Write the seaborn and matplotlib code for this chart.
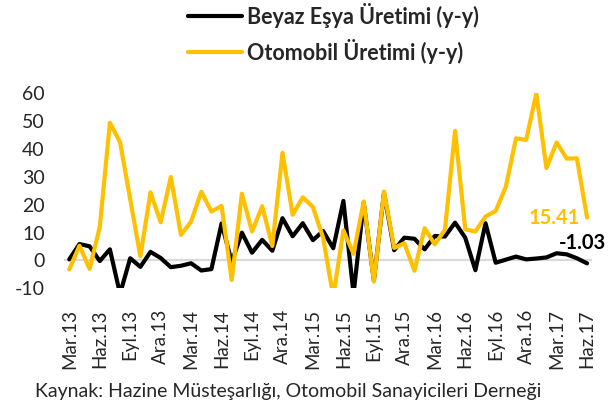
import matplotlib
matplotlib.use("Agg")
import matplotlib.pyplot as plt
import numpy as np
import pandas as pd
import seaborn as sns

# ---- data -------------------------------------------------------------
month_abbr = ["Mar", "Nis", "May", "Haz", "Tem", "Ağu", "Eyl", "Eki", "Kas", "Ara", "Oca", "Şub"]
months = []
yr = 13
for k in range(52):
    m = month_abbr[k % 12]
    if m == "Oca":
        yr += 1
    months.append(f"{m}.{yr}")

beyaz_esya = [0.4, 5.9, 5.1, -0.2, 4.0, -12.0, 0.8, -2.3, 3.1, 0.9,
              -2.4, -1.9, -1.0, -3.6, -3.1, 13.3, -0.5, 10.0, 2.8, 7.4,
              3.5, 15.2, 8.7, 13.4, 7.3, 10.6, 4.4, 21.4, -12.0, 20.8,
              -7.2, 24.3, 3.7, 8.2, 7.8, 4.0, 8.8, 8.6, 13.6, 8.2,
              -3.5, 13.4, -0.8, 0.3, 1.4, 0.4, 0.7, 1.1, 2.6, 2.2,
              0.8, -1.03]
otomobil = [-3.2, 5.3, -3.0, 12.0, 49.5, 42.5, 22.0, 1.5, 24.5, 13.7,
            30.0, 9.2, 14.0, 24.7, 17.6, 19.6, -7.0, 24.0, 10.4, 19.5,
            5.2, 38.7, 16.4, 22.7, 19.2, 8.2, -13.0, 10.8, 2.4, 21.2,
            -7.6, 24.8, 4.5, 6.2, -3.7, 11.6, 5.8, 11.0, 46.6, 11.2,
            10.4, 15.8, 17.8, 26.5, 43.9, 43.3, 60.0, 33.2, 42.4, 36.6,
            36.7, 15.41]
series_names = ["Beyaz Eşya Üretimi (y-y)", "Otomobil Üretimi (y-y)"]
series_colors = ["#000000", "#FFC000"]
y_ticks = [-10, 0, 10, 20, 30, 40, 50, 60]
source_text = "Kaynak: Hazine Müsteşarlığı, Otomobil Sanayicileri Derneği"

# ---- table ------------------------------------------------------------
idx = np.arange(len(months))
df = pd.DataFrame({
    "t": np.concatenate([idx, idx]),
    "val": beyaz_esya + otomobil,
    "seri": [series_names[0]] * len(idx) + [series_names[1]] * len(idx),
})

# ---- figure -----------------------------------------------------------
sns.set_theme(style="white")
plt.rcParams["font.family"] = ["Lato", "DejaVu Sans"]

fig = plt.figure(figsize=(6.08, 4.07), dpi=100)
ax = fig.add_axes([0.1056, 0.2916, 0.8683, 0.4787])

ax.axhline(0, color="#d9d9d9", lw=1.6, zorder=1)
sns.lineplot(data=df, x="t", y="val", hue="seri", hue_order=series_names,
             palette=series_colors, lw=3.0, ax=ax, legend=True, zorder=3)

ax.set_xlim(-0.5, len(months) - 0.5)
ax.set_ylim(-10, 60)
ax.set_yticks(y_ticks)
ax.set_yticklabels([str(v) for v in y_ticks], fontsize=14)
tick_pos = idx[::3]
ax.set_xticks(tick_pos)
ax.set_xticklabels([months[i] for i in tick_pos], rotation=90, fontsize=13.5)
ax.tick_params(axis="x", length=0, pad=15)
ax.tick_params(axis="y", length=0, pad=14)
ax.set_xlabel("")
ax.set_ylabel("")
for s in ax.spines.values():
    s.set_visible(False)

# end labels
last = len(months) - 1
ax.annotate(f"{otomobil[-1]:.2f}", xy=(last, otomobil[-1]), xytext=(-7, 0),
            textcoords="offset pixels", ha="right", va="center",
            color=series_colors[1], fontsize=14.5, fontweight="bold")
ax.annotate(f"{beyaz_esya[-1]:.2f}", xy=(last, beyaz_esya[-1]), xytext=(-5, 20),
            textcoords="offset pixels", ha="center", va="center",
            color=series_colors[0], fontsize=14.5, fontweight="bold",
            annotation_clip=False)

# legend
handles, labels = ax.get_legend_handles_labels()
leg = ax.legend(handles, labels, loc="upper left", frameon=False,
                bbox_to_anchor=(188 / 608, 1 - 3 / 407), bbox_transform=fig.transFigure,
                prop={"weight": "bold", "size": 15.5}, handlelength=2.5,
                handletextpad=0.25, labelspacing=0.5, borderpad=0, borderaxespad=0)
for h in leg.legend_handles:
    h.set_linewidth(3.0)

fig.text(35 / 608, 1 - 391 / 407, source_text, fontsize=14, ha="left", va="center")

fig.savefig("out.png", dpi=100)
